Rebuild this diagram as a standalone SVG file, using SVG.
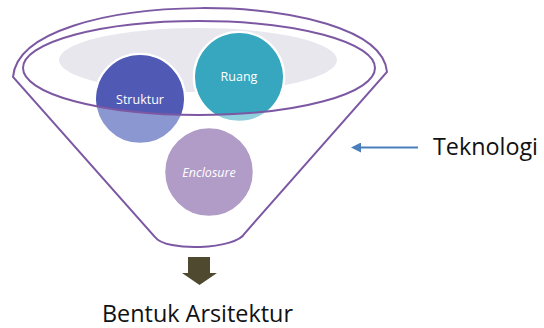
<svg xmlns="http://www.w3.org/2000/svg" width="544" height="328" viewBox="0 0 544 328">
<style>
.funnel{fill:none;stroke:#7c58a3;stroke-width:2}
.circ{stroke:#ffffff;stroke-width:2.5}
.lbl{font-family:"Open Sans","Liberation Sans",sans-serif;font-size:12.5px;fill:#ffffff;text-anchor:middle}
.big{font-family:"Open Sans","Liberation Sans",sans-serif;font-size:24px;fill:#111111}
</style>
<defs>
<clipPath id="inner"><ellipse cx="199" cy="68" rx="176" ry="47"/></clipPath>
<marker id="ah" viewBox="0 0 10 10" refX="1" refY="5" markerWidth="5" markerHeight="5" orient="auto-start-reverse"><path d="M0,0 L10,5 L0,10 z" fill="#4a7ebb"/></marker>
</defs>
<rect width="544" height="328" fill="#ffffff"/>
<ellipse cx="198" cy="60" rx="139" ry="32" fill="#e9e7ee"/>
<g id="struktur">
<circle class="circ" cx="140" cy="99" r="45" fill="#8b97d0"/>
<circle cx="140" cy="99" r="44" fill="#5059b4" clip-path="url(#inner)"/>
<text class="lbl" x="140" y="104">Struktur</text>
</g>
<g id="ruang">
<circle class="circ" cx="239" cy="77" r="45" fill="#8fd0dc"/>
<circle cx="239" cy="77" r="44" fill="#36a7be" clip-path="url(#inner)"/>
<text class="lbl" x="239" y="81">Ruang</text>
</g>
<g id="enclosure">
<circle class="circ" cx="209" cy="172" r="45" fill="#b19cc7"/>
<text class="lbl" x="209" y="177" font-style="italic">Enclosure</text>
</g>
<g id="funnel">
<path class="funnel" d="M13,77 C20,-14 380,-14 387,72 L245,233 C236,250 165,252 155,237 Z"/>
<ellipse class="funnel" cx="199" cy="68" rx="176" ry="47"/>
</g>
<g id="connectors">
<line x1="418" y1="147.5" x2="360" y2="147.5" stroke="#4a7ebb" stroke-width="2" marker-end="url(#ah)"/>
<path d="M188,257 H210 V273 H217 L199.5,285 L182,273 H188 Z" fill="#4f4a2f"/>
</g>
<g id="teknologi"><text class="big" x="433" y="155" textLength="105" lengthAdjust="spacingAndGlyphs">Teknologi</text></g>
<g id="bentuk"><text class="big" x="102" y="322" textLength="191" lengthAdjust="spacingAndGlyphs">Bentuk Arsitektur</text></g>
</svg>
